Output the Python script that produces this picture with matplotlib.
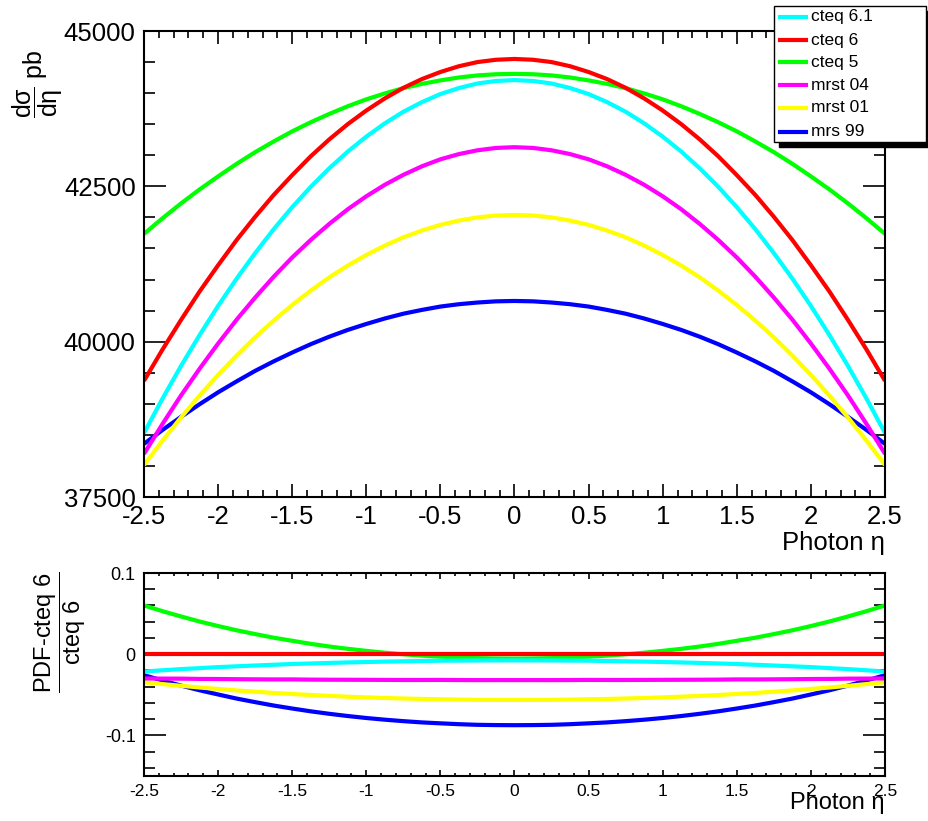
import matplotlib
matplotlib.use("Agg")
import matplotlib.pyplot as plt
from matplotlib.ticker import MultipleLocator, FuncFormatter
from matplotlib.patches import Rectangle
from matplotlib.lines import Line2D
import numpy as np

plt.rcParams['font.family'] = ['Liberation Sans', 'DejaVu Sans']
plt.rcParams['mathtext.fontset'] = 'custom'
plt.rcParams['mathtext.rm'] = 'Liberation Sans'
plt.rcParams['mathtext.it'] = 'Liberation Sans'
plt.rcParams['mathtext.sf'] = 'Liberation Sans'
plt.rcParams['axes.unicode_minus'] = False

# photon eta bins, -2.5 .. 0 (the curves are symmetric in eta)
eta_half = [-2.5, -2.375, -2.25, -2.125, -2.0, -1.875, -1.75, -1.625, -1.5, -1.375, -1.25,
            -1.125, -1.0, -0.875, -0.75, -0.625, -0.5, -0.375, -0.25, -0.125, 0.0]

# d sigma / d eta (pb) for eta <= 0
cteq61_half = [38530, 39084, 39610, 40106, 40575, 41015, 41425, 41810, 42165, 42492, 42790,
               43060, 43300, 43514, 43700, 43855, 43985, 44082, 44155, 44196, 44210]
cteq6_half = [39370, 39874, 40350, 40807, 41230, 41636, 42010, 42361, 42680, 42983, 43255,
              43501, 43720, 43915, 44085, 44226, 44340, 44433, 44500, 44537, 44550]
cteq5_half = [41735, 41986, 42225, 42450, 42660, 42862, 43050, 43222, 43385, 43531, 43665,
              43789, 43900, 43995, 44080, 44149, 44205, 44252, 44285, 44304, 44310]
mrst04_half = [38195, 38676, 39135, 39564, 39970, 40354, 40710, 41045, 41355, 41637, 41895,
               42131, 42340, 42525, 42685, 42822, 42935, 43019, 43080, 43118, 43130]
mrst01_half = [38015, 38407, 38780, 39132, 39465, 39776, 40070, 40339, 40590, 40822, 41035,
               41225, 41395, 41547, 41680, 41788, 41880, 41949, 42000, 42030, 42040]
mrs99_half = [38355, 38579, 38790, 38993, 39185, 39361, 39530, 39683, 39825, 39959, 40080,
              40189, 40285, 40373, 40450, 40511, 40565, 40603, 40630, 40649, 40655]


def mirror(h):
    return list(h) + list(h[-2::-1])


eta = list(eta_half) + [-e for e in eta_half[-2::-1]]
cteq61 = mirror(cteq61_half)
cteq6 = mirror(cteq6_half)
cteq5 = mirror(cteq5_half)
mrst04 = mirror(mrst04_half)
mrst01 = mirror(mrst01_half)
mrs99 = mirror(mrs99_half)

names = ['cteq 6.1', 'cteq 6', 'cteq 5', 'mrst 04', 'mrst 01', 'mrs 99']
colors = ['#00ffff', '#ff0000', '#00ff00', '#ff00ff', '#ffff00', '#0000ff']
series = [cteq61, cteq6, cteq5, mrst04, mrst01, mrs99]

W, H = 929, 821
fig = plt.figure(figsize=(W / 100, H / 100), dpi=100)


def box(x0, y0, x1, y1):
    return [x0 / W, 1 - y1 / H, (x1 - x0) / W, (y1 - y0) / H]


def fpos(x, y):
    return x / W, 1 - y / H


fmt = FuncFormatter(lambda v, p: '%g' % round(v, 6))

ax1 = fig.add_axes(box(144, 31, 885, 497))
ax2 = fig.add_axes(box(144, 573, 885, 776))

ref = np.array(cteq6, dtype=float)
order = [5, 4, 3, 2, 1, 0]
for i in order:
    ax1.plot(eta, series[i], color=colors[i], lw=3, solid_capstyle='butt')
    ratio = (np.array(series[i]) - ref) / ref
    ax2.plot(eta, ratio, color=colors[i], lw=3, solid_capstyle='butt')

ax1.set_xlim(-2.5, 2.5)
ax1.set_ylim(37500, 45000)
ax2.set_xlim(-2.5, 2.5)
ax2.set_ylim(-0.15, 0.1)

for ax in (ax1, ax2):
    for s in ax.spines.values():
        s.set_linewidth(1.5)
    ax.xaxis.set_major_locator(MultipleLocator(0.5))
    ax.xaxis.set_minor_locator(MultipleLocator(0.1))
    ax.xaxis.set_major_formatter(fmt)
    ax.yaxis.set_major_formatter(fmt)
    ax.tick_params(which='both', direction='in', top=True, right=True, width=1.2)

ax1.yaxis.set_major_locator(MultipleLocator(2500))
ax1.yaxis.set_minor_locator(MultipleLocator(500))
ax1.tick_params(axis='x', which='major', length=9.5, labelsize=18.5, pad=6)
ax1.tick_params(axis='x', which='minor', length=4.7)
ax1.tick_params(axis='y', which='major', length=16, labelsize=18.5, pad=6)
ax1.tick_params(axis='y', which='minor', length=8)

ax2.yaxis.set_major_locator(MultipleLocator(0.1))
ax2.yaxis.set_minor_locator(MultipleLocator(0.02))
ax2.tick_params(axis='x', which='major', length=4, labelsize=12.5, pad=6)
ax2.tick_params(axis='x', which='minor', length=2)
ax2.tick_params(axis='y', which='major', length=16, labelsize=13, pad=6)
ax2.tick_params(axis='y', which='minor', length=8)

# axis titles
fig.text(*fpos(885, 543), u'Photon \u03b7', fontsize=18.5, ha='right', va='center')
fig.text(*fpos(885, 803), u'Photon \u03b7', fontsize=17, ha='right', va='center')
fig.text(*fpos(38, 50), r'$\dfrac{d\sigma}{d\eta}$ pb', fontsize=18, rotation=90,
         ha='center', va='top')
fig.text(*fpos(60, 572), r'$\dfrac{\text{PDF-cteq 6}}{\text{cteq 6}}$', fontsize=17,
         rotation=90, ha='center', va='top')

# legend box with shadow
lx0, ly0, lx1, ly1 = 774, 6, 926, 142
fig.patches.append(Rectangle(fpos(lx0 + 5, ly1 + 5), (lx1 - lx0) / W, (ly1 - ly0) / H,
                             transform=fig.transFigure, facecolor='black', edgecolor='black'))
fig.patches.append(Rectangle(fpos(lx0, ly1), (lx1 - lx0) / W, (ly1 - ly0) / H,
                             transform=fig.transFigure, facecolor='white', edgecolor='black',
                             linewidth=1))
rows = [17, 40, 62, 85, 108, 132]
for name, c, ry in zip(names, colors, rows):
    xa, ya = fpos(780, ry)
    xb, yb = fpos(806, ry)
    fig.lines.append(Line2D([xa, xb], [ya, yb], transform=fig.transFigure, color=c, lw=3))
    fig.text(*fpos(811, ry), name, fontsize=12.5, ha='left', va='center')

fig.savefig('out.png', dpi=100)
